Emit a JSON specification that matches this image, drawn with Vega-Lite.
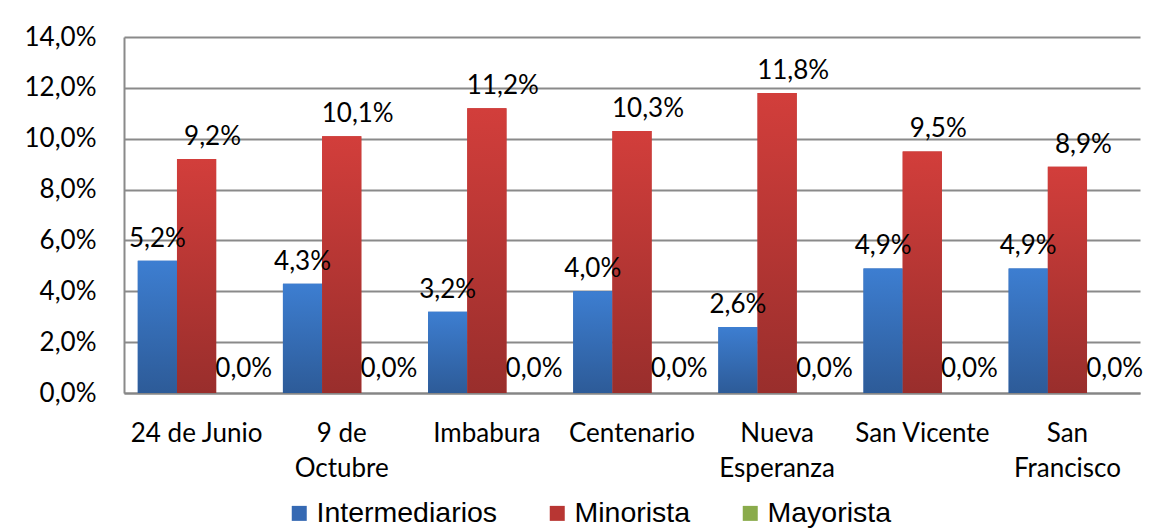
{
  "$schema": "https://vega.github.io/schema/vega-lite/v6.json",
  "autosize": {"type": "none"},
  "padding": {"left": 124, "top": 37, "right": 9, "bottom": 136},
  "width": 1016,
  "height": 356,
  "background": "white",
  "config": {
    "locale": {"number": {"decimal": ",", "thousands": ".", "grouping": [3], "currency": ["", " €"]}},
    "view": {"stroke": null},
    "font": "Lato"
  },
  "data": {
    "values": [
      {"barrio": "24 de Junio", "tipo": "Intermediarios", "valor": 0.052},
      {"barrio": "24 de Junio", "tipo": "Minorista", "valor": 0.092},
      {"barrio": "24 de Junio", "tipo": "Mayorista", "valor": 0.0},
      {"barrio": "9 de Octubre", "tipo": "Intermediarios", "valor": 0.043},
      {"barrio": "9 de Octubre", "tipo": "Minorista", "valor": 0.101},
      {"barrio": "9 de Octubre", "tipo": "Mayorista", "valor": 0.0},
      {"barrio": "Imbabura", "tipo": "Intermediarios", "valor": 0.032},
      {"barrio": "Imbabura", "tipo": "Minorista", "valor": 0.112},
      {"barrio": "Imbabura", "tipo": "Mayorista", "valor": 0.0},
      {"barrio": "Centenario", "tipo": "Intermediarios", "valor": 0.040},
      {"barrio": "Centenario", "tipo": "Minorista", "valor": 0.103},
      {"barrio": "Centenario", "tipo": "Mayorista", "valor": 0.0},
      {"barrio": "Nueva Esperanza", "tipo": "Intermediarios", "valor": 0.026},
      {"barrio": "Nueva Esperanza", "tipo": "Minorista", "valor": 0.118},
      {"barrio": "Nueva Esperanza", "tipo": "Mayorista", "valor": 0.0},
      {"barrio": "San Vicente", "tipo": "Intermediarios", "valor": 0.049},
      {"barrio": "San Vicente", "tipo": "Minorista", "valor": 0.095},
      {"barrio": "San Vicente", "tipo": "Mayorista", "valor": 0.0},
      {"barrio": "San Francisco", "tipo": "Intermediarios", "valor": 0.049},
      {"barrio": "San Francisco", "tipo": "Minorista", "valor": 0.089},
      {"barrio": "San Francisco", "tipo": "Mayorista", "valor": 0.0}
    ]
  },
  "encoding": {
    "x": {
      "field": "barrio", "type": "nominal", "sort": null,
      "scale": {"paddingInner": 0.19, "paddingOuter": 0.095},
      "axis": {
        "title": null, "labelAngle": 0, "labelFont": "Lato", "labelFontSize": 26, "labelColor": "#000000",
        "labelPadding": 27, "labelLineHeight": 35, "ticks": false, "domainColor": "#868686", "domainWidth": 2,
        "labelExpr": "datum.label == '9 de Octubre' ? ['9 de', 'Octubre'] : datum.label == 'Nueva Esperanza' ? ['Nueva', 'Esperanza'] : datum.label == 'San Francisco' ? ['San', 'Francisco'] : datum.label"
      }
    },
    "xOffset": {
      "field": "tipo", "type": "nominal",
      "scale": {"domain": ["Intermediarios", "Minorista", "Mayorista"], "paddingInner": 0, "paddingOuter": 0}
    },
    "y": {
      "field": "valor", "type": "quantitative",
      "scale": {"domain": [0, 0.14], "nice": false},
      "axis": {
        "title": null, "values": [0, 0.02, 0.04, 0.06, 0.08, 0.1, 0.12, 0.14], "format": ".1%",
        "labelFont": "Lato", "labelFontSize": 26, "labelColor": "#000000", "labelPadding": 28, "ticks": false,
        "gridColor": "#8a8a8a", "gridWidth": 2, "domainColor": "#8a8a8a", "domainWidth": 2
      }
    }
  },
  "layer": [
    {
      "mark": {"type": "bar"},
      "encoding": {
        "color": {
          "field": "tipo", "type": "nominal",
          "scale": {
            "domain": ["Intermediarios", "Minorista", "Mayorista"],
            "range": ["#3569b3", "#b83633", "#8aab4b"]
          },
          "legend": {
            "title": null, "orient": "none", "legendX": 161, "legendY": 462, "direction": "horizontal",
            "symbolType": "square", "symbolSize": 225, "symbolStrokeWidth": 0,
            "labelFont": "Liberation Sans", "labelFontSize": 28.5, "labelColor": "#000000",
            "labelOffset": 3, "columnPadding": 45, "labelLimit": 400
          }
        }
      }
    },
    {
      "transform": [{"filter": "datum.tipo == 'Intermediarios'"}],
      "mark": {"type": "bar", "color": {"gradient": "linear", "x1": 0, "y1": 0, "x2": 0, "y2": 1, "stops": [{"offset": 0, "color": "#3d7ed1"}, {"offset": 1, "color": "#2d5b98"}]}},
      "encoding": {}
    },
    {
      "transform": [{"filter": "datum.tipo == 'Minorista'"}],
      "mark": {"type": "bar", "color": {"gradient": "linear", "x1": 0, "y1": 0, "x2": 0, "y2": 1, "stops": [{"offset": 0, "color": "#d23e3b"}, {"offset": 1, "color": "#992e2c"}]}},
      "encoding": {}
    },
    {
      "transform": [{"filter": "datum.tipo == 'Intermediarios'"}],
      "mark": {"type": "text", "baseline": "alphabetic", "dy": -14, "fontSize": 26, "font": "Lato", "color": "#000000"},
      "encoding": {"text": {"field": "valor", "type": "quantitative", "format": ".1%"}}
    },
    {
      "transform": [{"filter": "datum.tipo == 'Minorista'"}],
      "mark": {"type": "text", "baseline": "alphabetic", "dy": -14, "dx": 16, "fontSize": 26, "font": "Lato", "color": "#000000"},
      "encoding": {"text": {"field": "valor", "type": "quantitative", "format": ".1%"}}
    },
    {
      "transform": [{"filter": "datum.tipo == 'Mayorista'"}],
      "mark": {"type": "text", "baseline": "alphabetic", "dy": -16, "dx": 8, "fontSize": 26, "font": "Lato", "color": "#000000"},
      "encoding": {"text": {"field": "valor", "type": "quantitative", "format": ".1%"}}
    }
  ]
}
